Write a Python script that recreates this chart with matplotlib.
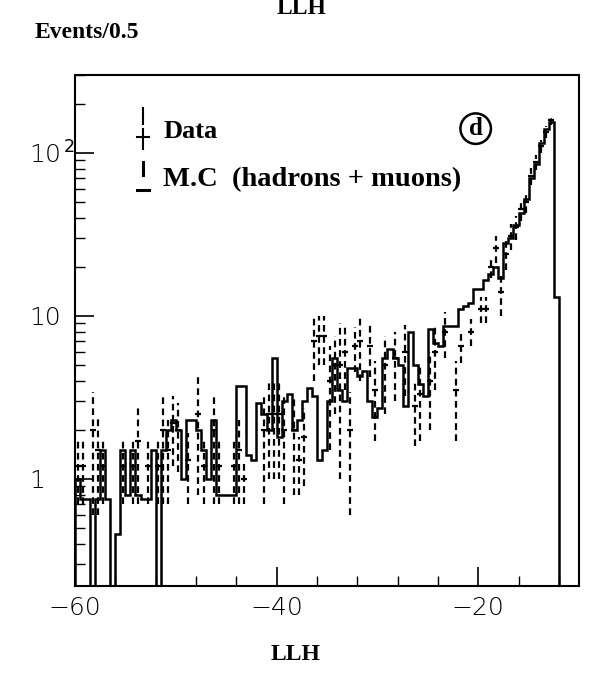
import numpy as np
import matplotlib
matplotlib.use("Agg")
import matplotlib.pyplot as plt
from matplotlib.ticker import FixedLocator, MultipleLocator, LogLocator, NullFormatter

# ---------------- data ----------------
bin_width = 0.5
x_start = -60.0
# Monte-Carlo histogram (hadrons + muons), one value per 0.5 bin from -60 to -12
mc_values = [1.0, 0.75, 0.75, 0, 0.75, 1.5, 0.75, 0, 0.46, 1.5,
             0.8, 1.5, 0.8, 0.75, 0.75, 1.5, 0, 1.5, 2.0, 2.3,
             2.0, 1.0, 2.3, 2.3, 2.0, 1.5, 1.0, 2.3, 0.8, 0.8,
             0.8, 0.8, 3.7, 3.7, 1.4, 1.3, 2.9, 2.5, 2.0, 5.5,
             1.8, 3.0, 3.3, 2.0, 2.3, 3.0, 3.6, 3.2, 1.3, 1.5,
             3.0, 5.5, 3.5, 3.0, 4.8, 4.8, 4.3, 4.6, 3.0, 2.4,
             2.7, 5.5, 6.3, 5.5, 5.0, 2.8, 8.0, 5.0, 3.8, 3.2,
             8.3, 6.8, 6.5, 8.7, 8.7, 8.7, 11, 11.5, 12, 14.5,
             14.5, 16.5, 18, 20, 17, 28, 30, 36, 43, 52,
             70, 85, 115, 140, 155, 13]

# Data points: bin index, value, error
data_bin = [0, 1, 3, 4, 5, 9, 11, 12, 14, 16, 17, 18, 19, 20, 22, 24, 25, 27, 28, 31,
            32, 33, 37, 38, 39, 40, 41, 43, 44, 45, 47, 48, 49, 50, 51, 52, 53, 54, 55, 56,
            58, 59, 61, 63, 65, 67, 68, 70, 71, 73, 75, 76, 78, 80, 81, 82, 83, 84, 85, 86,
            87, 88, 89, 90, 91, 92, 93, 94]
data_val = [1.2, 1.2, 2.0, 1.5, 1.2, 1.2, 1.2, 1.7, 1.2, 1.2, 2.0, 1.5, 2.2, 2.0, 1.3, 2.5, 1.2, 2.0, 1.2, 1.2,
            1.5, 1.0, 2.0, 2.5, 2.5, 2.5, 2.0, 2.0, 1.3, 1.8, 7.0, 7.5, 7.5, 4.0, 5.0, 5.0, 6.0, 2.0, 6.5, 7.0,
            6.5, 3.5, 5.0, 5.5, 6.0, 2.8, 3.3, 4.0, 6.0, 8.0, 3.5, 6.5, 8.0, 11, 11, 20, 26, 14, 24, 31,
            35, 45, 50, 72, 88, 110, 135, 160]
data_err = [0.5, 0.5, 1.4, 0.9, 0.5, 0.5, 0.5, 1.0, 0.5, 0.5, 1.3, 0.8, 1.0, 0.9, 0.6, 1.7, 0.5, 1.3, 0.5, 0.5,
            0.8, 0.3, 1.3, 1.5, 1.5, 1.5, 1.3, 1.2, 0.5, 0.9, 3.0, 2.5, 2.5, 2.5, 2.5, 4.0, 2.5, 1.4, 2.0, 3.0,
            2.3, 1.8, 2.5, 2.5, 2.8, 1.2, 1.6, 2.0, 2.5, 2.5, 1.8, 1.4, 1.5, 2.0, 2.0, 3.0, 5.0, 4.0, 5.0, 5.5,
            6.0, 6.7, 7.0, 8.5, 9.4, 10.5, 11.6, 12.6]

x_ticks = [-60, -40, -20]
x_ticklabels = ["\u221260", "\u221240", "\u221220"]
y_ticks = [1, 10, 100]
y_ticklabels = ["1", "10", r"10$^{\,2}$"]

# ---------------- figure ----------------
fig = plt.figure(figsize=(5.95, 6.91), dpi=100)
ax = fig.add_axes([75/595, 1 - 586/691, (579 - 75)/595, (586 - 75)/691])

edges = x_start + bin_width * np.arange(len(mc_values) + 1)
ax.set_yscale("log", nonpositive="clip")
ax.stairs(mc_values, edges, baseline=1e-6, fill=False, color="black", lw=1.8)

xc = x_start + bin_width * (np.array(data_bin) + 0.5)
dv = np.array(data_val)
de = np.array(data_err)
ax.vlines(xc, dv - de, dv + de, colors="black", linestyles=(0, (3, 2)), lw=1.6)
ax.plot(xc, dv, ls="none", marker="_", ms=5, mew=1.6, color="black")

ax.set_xlim(-60, -10)
ax.set_ylim(0.22, 300)

# ticks
ax.xaxis.set_major_locator(FixedLocator(x_ticks))
ax.set_xticklabels(x_ticklabels)
ax.xaxis.set_minor_locator(MultipleLocator(4))
ax.yaxis.set_major_locator(FixedLocator(y_ticks))
ax.set_yticklabels(y_ticklabels)
ax.yaxis.set_minor_locator(LogLocator(base=10, subs=np.arange(2, 10)))
ax.yaxis.set_minor_formatter(NullFormatter())

ax.tick_params(axis="both", which="major", direction="in", length=14, width=1.2,
               top=False, right=False, labelsize=18)
ax.tick_params(axis="both", which="minor", direction="in", length=7, width=1.0,
               top=False, right=False)
ax.tick_params(axis="y", which="major", pad=33)
ax.tick_params(axis="x", which="major", pad=7)
for lab in ax.get_yticklabels():
    lab.set_horizontalalignment("left")
    lab.set_family("DejaVu Sans")
    lab.set_fontweight("light")
for lab in ax.get_xticklabels():
    lab.set_family("DejaVu Sans")
    lab.set_fontweight("light")
for s in ax.spines.values():
    s.set_linewidth(1.5)

# legend drawn by hand
serif = "Liberation Serif"
ax.plot([0.135, 0.135], [0.905, 0.935], transform=ax.transAxes, color="black", lw=1.5)
ax.plot([0.135, 0.135], [0.855, 0.895], transform=ax.transAxes, color="black", lw=1.5)
ax.plot([0.123, 0.147], [0.878, 0.878], transform=ax.transAxes, color="black", lw=1.5)
ax.plot([0.135, 0.135], [0.805, 0.83], transform=ax.transAxes, color="black", lw=2.2)
ax.plot([0.123, 0.147], [0.775, 0.775], transform=ax.transAxes, color="black", lw=2.2)
ax.text(0.175, 0.89, "Data", transform=ax.transAxes, family=serif, fontweight="bold",
        fontsize=19, va="center", ha="left")
ax.text(0.175, 0.795, "M.C  (hadrons + muons)", transform=ax.transAxes, family=serif,
        fontweight="bold", fontsize=20.5, va="center", ha="left")
ax.text(0.795, 0.895, "d", transform=ax.transAxes, family=serif, fontweight="bold",
        fontsize=18, va="center", ha="center",
        bbox=dict(boxstyle="circle,pad=0.15", fc="white", ec="black", lw=1.8))

# axis titles
fig.text(35/595, 1 - 33/691, "Events/0.5", family=serif, fontweight="bold", fontsize=17,
         ha="left", va="center")
fig.text(302/595, 1 - 9/691, "LLH", family=serif, fontweight="bold", fontsize=17,
         ha="center", va="center")
fig.text(296/595, 1 - 655/691, "LLH", family=serif, fontweight="bold", fontsize=17,
         ha="center", va="center")

fig.savefig("out.png", dpi=100)
